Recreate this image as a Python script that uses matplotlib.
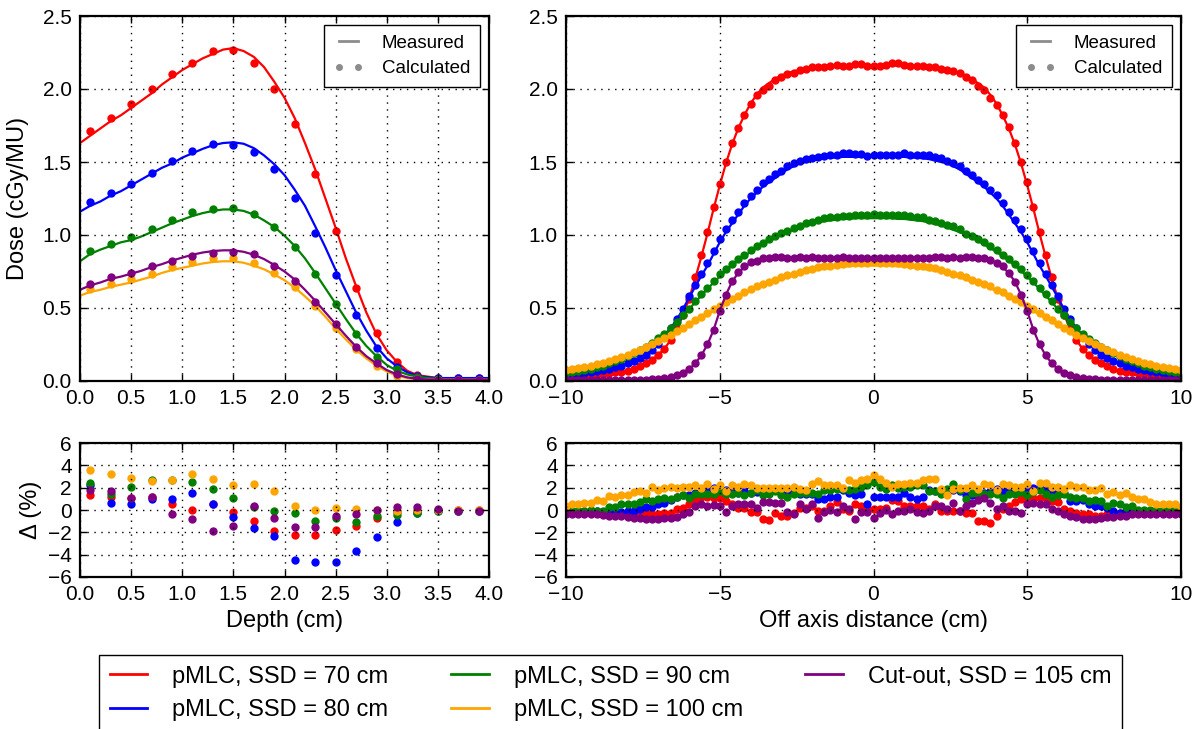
import numpy as np
import matplotlib
matplotlib.use('Agg')
import matplotlib.pyplot as plt
from matplotlib.lines import Line2D
from matplotlib.ticker import FormatStrFormatter

plt.rcParams['font.family'] = ['Liberation Sans', 'DejaVu Sans']
plt.rcParams['axes.linewidth'] = 1.6
plt.rcParams['xtick.direction'] = 'in'
plt.rcParams['ytick.direction'] = 'in'
plt.rcParams['xtick.top'] = True
plt.rcParams['ytick.right'] = True

# ---------------- depth dose (left) ----------------
depth_meas = np.round(np.arange(0.0, 4.01, 0.1), 1)
depth_calc = np.round(np.arange(0.1, 4.0, 0.2), 1)

pdd_red_meas = [1.63, 1.68, 1.73, 1.78, 1.82, 1.87, 1.92, 1.97, 2.03, 2.08,
                2.13, 2.17, 2.21, 2.24, 2.27, 2.28, 2.26, 2.22, 2.15, 2.05,
                1.94, 1.80, 1.63, 1.45, 1.25, 1.05, 0.84, 0.65, 0.47, 0.32,
                0.21, 0.13, 0.07, 0.04, 0.03, 0.02, 0.02, 0.02, 0.02, 0.02, 0.02]
pdd_blue_meas = [1.16, 1.20, 1.23, 1.27, 1.30, 1.34, 1.38, 1.42, 1.46, 1.49,
                 1.53, 1.56, 1.59, 1.615, 1.63, 1.635, 1.625, 1.595, 1.545, 1.485,
                 1.41, 1.31, 1.20, 1.06, 0.915, 0.76, 0.615, 0.47, 0.345, 0.235,
                 0.155, 0.10, 0.06, 0.035, 0.025, 0.02, 0.02, 0.02, 0.02, 0.02, 0.02]
pdd_green_meas = [0.82, 0.87, 0.90, 0.925, 0.95, 0.965, 0.99, 1.02, 1.05, 1.08,
                  1.105, 1.13, 1.15, 1.165, 1.175, 1.175, 1.165, 1.14, 1.10, 1.055,
                  0.995, 0.925, 0.84, 0.74, 0.635, 0.53, 0.425, 0.325, 0.24, 0.17,
                  0.11, 0.07, 0.045, 0.03, 0.02, 0.015, 0.012, 0.01, 0.01, 0.01, 0.01]
pdd_orange_meas = [0.585, 0.61, 0.625, 0.645, 0.66, 0.675, 0.695, 0.715, 0.74, 0.76,
                   0.775, 0.79, 0.805, 0.815, 0.82, 0.82, 0.81, 0.79, 0.765, 0.73,
                   0.69, 0.64, 0.58, 0.515, 0.44, 0.36, 0.285, 0.215, 0.155, 0.105,
                   0.065, 0.035, 0.02, 0.012, 0.01, 0.01, 0.01, 0.01, 0.01, 0.01, 0.01]
pdd_purple_meas = [0.625, 0.655, 0.675, 0.70, 0.715, 0.735, 0.755, 0.78, 0.80, 0.825,
                   0.845, 0.865, 0.88, 0.89, 0.895, 0.895, 0.885, 0.865, 0.835, 0.795,
                   0.75, 0.695, 0.625, 0.55, 0.47, 0.39, 0.31, 0.235, 0.17, 0.12,
                   0.075, 0.045, 0.025, 0.015, 0.01, 0.01, 0.01, 0.01, 0.01, 0.01, 0.01]

pdd_red_calc = [1.71, 1.80, 1.90, 2.00, 2.10, 2.18, 2.26, 2.27, 2.18, 2.00,
                1.76, 1.42, 1.03, 0.64, 0.33, 0.13, 0.04, 0.02, 0.02, 0.02]
pdd_blue_calc = [1.226, 1.285, 1.347, 1.427, 1.507, 1.578, 1.623, 1.619, 1.566, 1.452,
                 1.253, 1.011, 0.726, 0.452, 0.228, 0.098, 0.034, 0.02, 0.02, 0.02]
pdd_green_calc = [0.893, 0.936, 0.986, 1.043, 1.103, 1.155, 1.180, 1.185, 1.144, 1.053,
                  0.920, 0.733, 0.527, 0.320, 0.162, 0.080, 0.03, 0.015, 0.01, 0.01]
pdd_orange_calc = [0.632, 0.664, 0.696, 0.735, 0.781, 0.815, 0.840, 0.840, 0.808, 0.742,
                   0.646, 0.514, 0.361, 0.217, 0.105, 0.034, 0.012, 0.01, 0.01, 0.01]
pdd_purple_calc = [0.664, 0.710, 0.742, 0.790, 0.824, 0.858, 0.874, 0.881, 0.868, 0.790,
                   0.685, 0.541, 0.390, 0.235, 0.121, 0.046, 0.015, 0.01, 0.01, 0.01]

pdd_red_diff = [1.35, 1.15, 1.05, 1.15, 0.5, 0.0, 0.5, -0.2, -0.95, -1.85,
                -2.25, -2.2, -1.8, -1.4, -0.75, -0.2, -0.05, 0.0, 0.0, 0.0]
pdd_blue_diff = [2.2, 0.65, 0.5, 1.0, 1.0, 1.5, 0.55, -0.65, -1.6, -2.3,
                 -4.5, -4.65, -4.7, -3.7, -2.45, -1.1, -0.3, -0.1, -0.05, -0.05]
pdd_green_diff = [2.4, 1.4, 2.1, 2.65, 2.7, 2.5, 1.9, 1.1, 0.3, -0.1,
                  -0.3, -1.0, -0.7, -1.1, -0.5, -0.45, -0.25, -0.1, -0.05, -0.05]
pdd_orange_diff = [3.6, 3.2, 2.9, 2.6, 2.7, 3.2, 2.8, 2.2, 2.3, 1.7,
                   0.4, 0.0, 0.2, 0.05, 0.0, -0.1, 0.0, 0.0, 0.0, 0.0]
pdd_purple_diff = [1.75, 1.7, 1.05, 1.15, -0.35, -0.8, -1.85, -1.45, 0.4, -0.7,
                   -1.55, -1.5, -0.55, -0.4, 0.0, 0.25, 0.25, 0.05, -0.1, -0.1]

# ---------------- profiles (right) ----------------
off_axis = np.round(np.arange(-10.0, 10.01, 0.2), 1)

prof_red_meas = [0.03, 0.035, 0.035, 0.04, 0.04, 0.045, 0.05, 0.055, 0.06, 0.065,
                 0.07, 0.08, 0.10, 0.12, 0.145, 0.18, 0.22, 0.28, 0.36, 0.45,
                 0.56, 0.70, 0.85, 1.01, 1.18, 1.34, 1.49, 1.62, 1.73, 1.82,
                 1.90, 1.96, 2.01, 2.04, 2.07, 2.09, 2.11, 2.12, 2.13, 2.14,
                 2.14, 2.15, 2.15, 2.15, 2.15, 2.155, 2.16, 2.16, 2.16, 2.16,
                 2.16, 2.16, 2.16, 2.16, 2.16, 2.155, 2.15, 2.15, 2.15, 2.15,
                 2.14, 2.14, 2.13, 2.12, 2.11, 2.09, 2.07, 2.04, 2.01, 1.96,
                 1.90, 1.82, 1.73, 1.62, 1.49, 1.34, 1.18, 1.01, 0.85, 0.70,
                 0.56, 0.45, 0.36, 0.28, 0.22, 0.18, 0.145, 0.12, 0.10, 0.08,
                 0.07, 0.065, 0.06, 0.055, 0.05, 0.045, 0.04, 0.04, 0.035, 0.035,
                 0.03]
prof_red_calc = [0.03, 0.035, 0.035, 0.04, 0.04, 0.045, 0.05, 0.055, 0.06, 0.065,
                 0.07, 0.08, 0.10, 0.12, 0.145, 0.18, 0.22, 0.28, 0.36, 0.45,
                 0.56, 0.71, 0.86, 1.02, 1.19, 1.35, 1.50, 1.63, 1.73, 1.82,
                 1.90, 1.96, 1.99, 2.02, 2.06, 2.08, 2.10, 2.11, 2.13, 2.14,
                 2.15, 2.15, 2.15, 2.16, 2.165, 2.155, 2.16, 2.17, 2.17, 2.16,
                 2.16, 2.16, 2.165, 2.18, 2.18, 2.165, 2.16, 2.16, 2.16, 2.15,
                 2.15, 2.14, 2.13, 2.12, 2.11, 2.085, 2.065, 2.02, 1.99, 1.94,
                 1.89, 1.82, 1.74, 1.63, 1.50, 1.36, 1.19, 1.02, 0.86, 0.71,
                 0.56, 0.45, 0.36, 0.28, 0.22, 0.18, 0.145, 0.12, 0.10, 0.08,
                 0.07, 0.065, 0.06, 0.055, 0.05, 0.045, 0.04, 0.04, 0.035, 0.035,
                 0.03]
prof_blue_meas = [0.04, 0.045, 0.05, 0.055, 0.06, 0.07, 0.075, 0.085, 0.095, 0.105,
                  0.12, 0.135, 0.155, 0.18, 0.215, 0.255, 0.305, 0.36, 0.42, 0.49,
                  0.57, 0.645, 0.72, 0.79, 0.87, 0.95, 1.02, 1.08, 1.14, 1.20,
                  1.25, 1.29, 1.33, 1.36, 1.39, 1.42, 1.45, 1.47, 1.49, 1.50,
                  1.51, 1.52, 1.525, 1.53, 1.53, 1.535, 1.535, 1.535, 1.535, 1.535,
                  1.535, 1.535, 1.535, 1.535, 1.535, 1.535, 1.53, 1.53, 1.525, 1.52,
                  1.51, 1.50, 1.49, 1.47, 1.45, 1.42, 1.39, 1.36, 1.33, 1.29,
                  1.25, 1.20, 1.14, 1.08, 1.02, 0.95, 0.87, 0.79, 0.72, 0.645,
                  0.57, 0.49, 0.42, 0.36, 0.305, 0.255, 0.215, 0.18, 0.155, 0.135,
                  0.12, 0.105, 0.095, 0.085, 0.075, 0.07, 0.06, 0.055, 0.05, 0.045,
                  0.04]
prof_blue_calc = [0.04, 0.045, 0.05, 0.055, 0.06, 0.07, 0.075, 0.085, 0.095, 0.105,
                  0.12, 0.135, 0.155, 0.18, 0.215, 0.255, 0.305, 0.365, 0.425, 0.495,
                  0.58, 0.655, 0.73, 0.805, 0.89, 0.97, 1.04, 1.10, 1.16, 1.22,
                  1.27, 1.31, 1.355, 1.385, 1.415, 1.44, 1.47, 1.495, 1.51, 1.52,
                  1.53, 1.535, 1.54, 1.545, 1.55, 1.56, 1.56, 1.555, 1.555, 1.54,
                  1.55, 1.55, 1.55, 1.55, 1.55, 1.56, 1.55, 1.545, 1.545, 1.545,
                  1.535, 1.525, 1.51, 1.495, 1.47, 1.44, 1.41, 1.38, 1.35, 1.31,
                  1.275, 1.22, 1.16, 1.10, 1.04, 0.97, 0.89, 0.805, 0.735, 0.655,
                  0.58, 0.495, 0.425, 0.365, 0.305, 0.255, 0.215, 0.18, 0.155, 0.135,
                  0.12, 0.105, 0.095, 0.085, 0.075, 0.07, 0.06, 0.055, 0.05, 0.045,
                  0.04]
prof_green_meas = [0.055, 0.06, 0.07, 0.075, 0.085, 0.095, 0.105, 0.12, 0.135, 0.15,
                   0.17, 0.19, 0.21, 0.235, 0.26, 0.29, 0.32, 0.36, 0.40, 0.445,
                   0.49, 0.54, 0.585, 0.63, 0.675, 0.715, 0.755, 0.79, 0.825, 0.855,
                   0.885, 0.91, 0.935, 0.96, 0.98, 1.00, 1.02, 1.035, 1.05, 1.065,
                   1.075, 1.085, 1.095, 1.10, 1.105, 1.11, 1.11, 1.115, 1.115, 1.115,
                   1.115, 1.115, 1.115, 1.115, 1.11, 1.11, 1.105, 1.10, 1.095, 1.085,
                   1.075, 1.065, 1.05, 1.035, 1.02, 1.00, 0.98, 0.96, 0.935, 0.91,
                   0.885, 0.855, 0.825, 0.79, 0.755, 0.715, 0.675, 0.63, 0.585, 0.54,
                   0.49, 0.445, 0.40, 0.36, 0.32, 0.29, 0.26, 0.235, 0.21, 0.19,
                   0.17, 0.15, 0.135, 0.12, 0.105, 0.095, 0.085, 0.075, 0.07, 0.06,
                   0.055]
prof_green_calc = [0.055, 0.06, 0.07, 0.075, 0.085, 0.095, 0.105, 0.12, 0.135, 0.15,
                   0.17, 0.19, 0.21, 0.235, 0.26, 0.295, 0.325, 0.365, 0.405, 0.45,
                   0.495, 0.55, 0.595, 0.64, 0.685, 0.73, 0.765, 0.80, 0.835, 0.865,
                   0.90, 0.925, 0.945, 0.975, 0.995, 1.015, 1.03, 1.05, 1.065, 1.08,
                   1.09, 1.10, 1.115, 1.12, 1.125, 1.13, 1.13, 1.135, 1.14, 1.14,
                   1.145, 1.14, 1.135, 1.14, 1.135, 1.135, 1.13, 1.125, 1.12, 1.105,
                   1.095, 1.08, 1.07, 1.06, 1.04, 1.01, 0.995, 0.975, 0.95, 0.925,
                   0.90, 0.865, 0.835, 0.80, 0.765, 0.725, 0.685, 0.64, 0.595, 0.545,
                   0.495, 0.45, 0.405, 0.365, 0.325, 0.29, 0.26, 0.235, 0.21, 0.19,
                   0.17, 0.15, 0.135, 0.12, 0.105, 0.095, 0.085, 0.075, 0.07, 0.06,
                   0.055]
prof_orange_meas = [0.075, 0.08, 0.09, 0.095, 0.105, 0.115, 0.125, 0.135, 0.15, 0.165,
                    0.18, 0.195, 0.21, 0.23, 0.25, 0.27, 0.29, 0.31, 0.335, 0.36,
                    0.38, 0.405, 0.43, 0.455, 0.48, 0.505, 0.53, 0.55, 0.575, 0.595,
                    0.615, 0.635, 0.65, 0.665, 0.68, 0.695, 0.71, 0.72, 0.735, 0.745,
                    0.755, 0.76, 0.77, 0.775, 0.78, 0.785, 0.785, 0.79, 0.79, 0.79,
                    0.79, 0.79, 0.79, 0.79, 0.785, 0.785, 0.78, 0.775, 0.77, 0.76,
                    0.755, 0.745, 0.735, 0.72, 0.71, 0.695, 0.68, 0.665, 0.65, 0.635,
                    0.615, 0.595, 0.575, 0.55, 0.53, 0.505, 0.48, 0.455, 0.43, 0.405,
                    0.38, 0.36, 0.335, 0.31, 0.29, 0.27, 0.25, 0.23, 0.21, 0.195,
                    0.18, 0.165, 0.15, 0.135, 0.125, 0.115, 0.105, 0.095, 0.09, 0.08,
                    0.075]
prof_orange_calc = [0.075, 0.08, 0.09, 0.095, 0.105, 0.115, 0.125, 0.135, 0.15, 0.165,
                    0.18, 0.20, 0.215, 0.235, 0.255, 0.275, 0.295, 0.315, 0.34, 0.365,
                    0.39, 0.415, 0.44, 0.465, 0.49, 0.515, 0.54, 0.56, 0.585, 0.61,
                    0.63, 0.65, 0.665, 0.68, 0.695, 0.71, 0.725, 0.735, 0.75, 0.76,
                    0.77, 0.78, 0.785, 0.79, 0.795, 0.80, 0.805, 0.81, 0.81, 0.81,
                    0.815, 0.81, 0.81, 0.805, 0.805, 0.80, 0.795, 0.79, 0.79, 0.78,
                    0.775, 0.76, 0.745, 0.735, 0.725, 0.71, 0.695, 0.68, 0.665, 0.65,
                    0.625, 0.61, 0.585, 0.56, 0.54, 0.515, 0.49, 0.465, 0.44, 0.415,
                    0.39, 0.365, 0.34, 0.315, 0.295, 0.275, 0.255, 0.235, 0.215, 0.20,
                    0.18, 0.165, 0.15, 0.135, 0.125, 0.115, 0.105, 0.095, 0.09, 0.08,
                    0.075]
prof_purple_meas = [0.005, 0.005, 0.005, 0.005, 0.005, 0.005, 0.005, 0.006, 0.006, 0.007,
                    0.007, 0.008, 0.009, 0.01, 0.012, 0.014, 0.018, 0.025, 0.04, 0.055,
                    0.08, 0.12, 0.175, 0.25, 0.35, 0.48, 0.59, 0.68, 0.74, 0.78,
                    0.81, 0.825, 0.835, 0.84, 0.845, 0.845, 0.845, 0.845, 0.845, 0.845,
                    0.845, 0.845, 0.845, 0.845, 0.845, 0.845, 0.845, 0.845, 0.845, 0.845,
                    0.845, 0.845, 0.845, 0.845, 0.845, 0.845, 0.845, 0.845, 0.845, 0.845,
                    0.845, 0.845, 0.845, 0.845, 0.845, 0.845, 0.845, 0.84, 0.835, 0.825,
                    0.81, 0.78, 0.74, 0.68, 0.59, 0.48, 0.35, 0.25, 0.175, 0.12,
                    0.08, 0.055, 0.04, 0.025, 0.018, 0.014, 0.012, 0.01, 0.009, 0.008,
                    0.007, 0.007, 0.006, 0.006, 0.005, 0.005, 0.005, 0.005, 0.005, 0.005,
                    0.005]
prof_purple_calc = [0.005, 0.005, 0.005, 0.005, 0.005, 0.005, 0.005, 0.006, 0.006, 0.007,
                    0.007, 0.008, 0.009, 0.01, 0.012, 0.014, 0.018, 0.025, 0.04, 0.055,
                    0.08, 0.12, 0.175, 0.25, 0.35, 0.48, 0.59, 0.685, 0.745, 0.785,
                    0.815, 0.825, 0.84, 0.845, 0.85, 0.85, 0.845, 0.845, 0.85, 0.845,
                    0.85, 0.84, 0.845, 0.845, 0.845, 0.85, 0.845, 0.84, 0.845, 0.845,
                    0.84, 0.845, 0.845, 0.845, 0.845, 0.845, 0.845, 0.845, 0.845, 0.845,
                    0.85, 0.85, 0.845, 0.85, 0.845, 0.85, 0.85, 0.845, 0.845, 0.83,
                    0.81, 0.785, 0.74, 0.68, 0.59, 0.48, 0.35, 0.25, 0.175, 0.12,
                    0.08, 0.055, 0.04, 0.025, 0.018, 0.014, 0.012, 0.01, 0.009, 0.008,
                    0.007, 0.007, 0.006, 0.006, 0.005, 0.005, 0.005, 0.005, 0.005, 0.005,
                    0.005]

prof_red_diff = [-0.2, -0.2, -0.2, -0.2, -0.25, -0.25, -0.3, -0.3, -0.3, -0.3,
                 -0.3, -0.35, -0.35, -0.25, -0.4, -0.4, -0.25, -0.25, 0.05, 0.2,
                 0.5, 0.8, 1.15, 1.15, 1.1, 1.1, 0.85, 0.5, 0.2, 0.2,
                 -0.2, -0.2, -0.85, -0.9, -0.25, -0.5, -0.5, -0.25, 0.2, 0.2,
                 0.4, -0.1, -0.1, 0.35, 0.7, 0.05, -0.05, 0.5, 0.4, 0.05,
                 0.05, 0.05, 0.2, 0.9, 0.8, 0.4, 0.4, 0.35, 0.35, 0.05,
                 0.5, -0.05, -0.1, -0.1, -0.05, -0.25, -0.25, -1.0, -1.0, -1.2,
                 -0.5, 0.05, 0.35, 0.7, 1.0, 1.15, 1.1, 1.1, 1.15, 0.8,
                 0.7, 0.05, -0.05, -0.25, -0.35, -0.4, -0.5, -0.5, -0.4, -0.35,
                 -0.3, -0.3, -0.3, -0.2, -0.2, -0.2, -0.2, -0.2, -0.1, -0.1,
                 -0.1]
prof_blue_diff = [-0.05, -0.05, -0.05, -0.05, -0.1, -0.1, -0.15, -0.2, -0.2, -0.2,
                  -0.1, -0.1, 0.05, 0.25, 0.25, 0.55, 0.65, 0.9, 1.2, 1.3,
                  1.3, 1.5, 1.6, 1.9, 2.0, 1.9, 1.8, 1.6, 1.5, 1.7,
                  1.5, 1.65, 1.75, 1.7, 1.75, 1.5, 1.6, 1.7, 1.4, 1.4,
                  1.45, 1.0, 1.0, 1.15, 1.2, 1.75, 1.5, 1.3, 1.4, 0.5,
                  1.15, 1.2, 1.2, 1.15, 1.2, 1.5, 1.15, 1.0, 1.2, 1.75,
                  1.7, 1.7, 1.6, 1.75, 1.7, 1.3, 1.3, 1.3, 1.5, 1.7,
                  1.9, 1.7, 1.9, 1.75, 1.7, 2.0, 2.0, 2.1, 1.9, 1.75,
                  1.6, 1.5, 0.85, 0.8, 0.9, 0.5, 0.35, 0.35, 0.2, -0.1,
                  -0.25, -0.2, -0.2, -0.1, -0.1, -0.05, -0.05, -0.05, 0.0, -0.05,
                  -0.05]
prof_green_diff = [-0.1, -0.1, -0.1, -0.1, 0.0, -0.05, -0.05, 0.27, 0.27, 0.5,
                   0.5, 0.5, 0.7, 1.0, 0.85, 1.0, 1.05, 1.0, 1.15, 1.3,
                   1.1, 1.4, 1.45, 1.45, 1.45, 1.7, 1.45, 1.45, 1.5, 1.3,
                   1.5, 1.75, 1.3, 1.4, 1.7, 1.3, 1.15, 1.4, 1.5, 1.5,
                   1.5, 1.4, 1.75, 1.8, 1.9, 1.9, 1.8, 1.9, 2.1, 2.2,
                   2.5, 2.1, 1.9, 2.2, 2.0, 2.1, 2.1, 2.2, 2.2, 1.7,
                   1.7, 1.4, 1.9, 2.35, 1.75, 1.0, 1.5, 1.4, 1.45, 1.4,
                   1.45, 1.1, 1.45, 1.45, 1.6, 1.3, 1.6, 1.8, 1.45, 1.15,
                   1.3, 1.4, 1.15, 1.1, 1.1, 0.85, 0.9, 0.8, 0.35, 0.6,
                   0.5, 0.27, 0.33, 0.0, 0.0, 0.0, 0.0, 0.0, 0.0, -0.05,
                   -0.05]
prof_orange_diff = [0.35, 0.5, 0.5, 0.6, 0.6, 0.9, 0.85, 1.25, 1.15, 1.3,
                    1.3, 1.6, 1.7, 1.5, 2.05, 1.75, 2.0, 2.05, 2.0, 2.05,
                    2.05, 2.2, 1.95, 2.3, 1.9, 2.2, 1.7, 2.2, 2.1, 2.3,
                    2.2, 2.0, 2.0, 2.0, 2.0, 2.0, 2.0, 2.05, 1.9, 1.8,
                    2.3, 2.6, 2.2, 2.2, 2.2, 2.0, 2.7, 2.4, 2.7, 2.8,
                    3.1, 2.8, 2.4, 2.1, 2.35, 2.35, 2.4, 2.4, 2.65, 2.8,
                    2.8, 1.9, 1.3, 1.9, 2.0, 2.0, 2.2, 1.9, 2.3, 2.2,
                    1.75, 2.3, 2.2, 2.05, 2.1, 2.3, 1.7, 2.4, 2.4, 2.05,
                    2.1, 1.9, 2.2, 2.1, 2.05, 1.8, 1.75, 2.0, 1.45, 1.6,
                    1.3, 1.5, 1.2, 1.0, 1.0, 0.7, 0.5, 0.5, 0.55, 0.5,
                    0.3]
prof_purple_diff = [-0.35, -0.35, -0.35, -0.35, -0.4, -0.4, -0.45, -0.5, -0.5, -0.55,
                    -0.6, -0.7, -0.75, -0.8, -0.8, -0.8, -0.7, -0.75, -0.6, -0.4,
                    -0.2, 0.35, 0.55, 0.4, 0.45, 0.35, -0.2, 0.35, 0.5, 0.5,
                    0.5, 0.2, 0.7, 0.7, 0.65, 0.6, -0.2, -0.35, 0.55, 0.05,
                    0.5, -0.7, -0.2, 0.0, -0.2, 0.35, 0.1, -0.8, -0.2, -0.2,
                    -0.7, -0.25, 0.0, -0.35, -0.1, -0.1, 0.05, -0.2, -0.25, -0.1,
                    0.35, 0.35, 0.1, 0.6, -0.1, 0.35, 0.6, 0.9, 1.1, 0.6,
                    0.1, 0.35, -0.1, -0.05, -0.25, 0.5, 0.6, 0.55, 0.5, 0.1,
                    -0.1, -0.35, -0.5, -0.6, -0.8, -0.8, -0.8, -0.7, -0.6, -0.6,
                    -0.55, -0.5, -0.4, -0.4, -0.4, -0.35, -0.35, -0.35, -0.35, -0.35,
                    -0.35]

series_colors = ['red', 'blue', 'green', 'orange', 'purple']
series_labels = ['pMLC, SSD = 70 cm', 'pMLC, SSD = 80 cm', 'pMLC, SSD = 90 cm',
                 'pMLC, SSD = 100 cm', 'Cut-out, SSD = 105 cm']

pdd_meas = [pdd_red_meas, pdd_blue_meas, pdd_green_meas, pdd_orange_meas, pdd_purple_meas]
pdd_calc = [pdd_red_calc, pdd_blue_calc, pdd_green_calc, pdd_orange_calc, pdd_purple_calc]
pdd_diff = [pdd_red_diff, pdd_blue_diff, pdd_green_diff, pdd_orange_diff, pdd_purple_diff]
prof_meas = [prof_red_meas, prof_blue_meas, prof_green_meas, prof_orange_meas, prof_purple_meas]
prof_calc = [prof_red_calc, prof_blue_calc, prof_green_calc, prof_orange_calc, prof_purple_calc]
prof_diff = [prof_red_diff, prof_blue_diff, prof_green_diff, prof_orange_diff, prof_purple_diff]

W, H = 1201, 729
fig = plt.figure(figsize=(W / 100, H / 100), dpi=100)
fig.patch.set_facecolor('white')


def box(x0, y0, x1, y1):
    return [x0 / W, 1 - y1 / H, (x1 - x0) / W, (y1 - y0) / H]


ax1 = fig.add_axes(box(80, 16, 489, 381))
ax2 = fig.add_axes(box(566, 16, 1181, 381))
ax3 = fig.add_axes(box(80, 443, 489, 577))
ax4 = fig.add_axes(box(566, 443, 1181, 577))

ms = 5
for c, m, k in zip(series_colors, pdd_meas, pdd_calc):
    ax1.plot(depth_meas, m, '-', color=c, lw=1.6)
    ax1.plot(depth_calc, k, 'o', color=c, ms=ms, mec=c)
for c, m, k in zip(series_colors, prof_meas, prof_calc):
    ax2.plot(off_axis, m, '-', color=c, lw=1.6)
    ax2.plot(off_axis, k, 'o', color=c, ms=ms, mec=c)
for c, d in zip(series_colors, pdd_diff):
    ax3.plot(depth_calc, d, 'o', color=c, ms=ms, mec=c)
for c, d in zip(series_colors, prof_diff):
    ax4.plot(off_axis, d, 'o', color=c, ms=ms, mec=c)

for ax in (ax1, ax3):
    ax.set_xlim(0, 4)
    ax.set_xticks(np.arange(0, 4.01, 0.5))
    ax.xaxis.set_major_formatter(FormatStrFormatter('%.1f'))
for ax in (ax2, ax4):
    ax.set_xlim(-10, 10)
    ax.set_xticks([-10, -5, 0, 5, 10])
for ax in (ax1, ax2):
    ax.set_ylim(0, 2.5)
    ax.set_yticks(np.arange(0, 2.51, 0.5))
    ax.yaxis.set_major_formatter(FormatStrFormatter('%.1f'))
for ax in (ax3, ax4):
    ax.set_ylim(-6, 6)
    ax.set_yticks([-6, -4, -2, 0, 2, 4, 6])

for ax in (ax1, ax2, ax3, ax4):
    ax.grid(True, color='k', linestyle=(0, (1, 4)), linewidth=1.0)
    ax.tick_params(labelsize=15, length=5, width=1, pad=6)
    ax.set_axisbelow(False)

ax1.set_ylabel('Dose (cGy/MU)', fontsize=17, labelpad=10)
ax3.set_ylabel('Δ (%)', fontsize=17, labelpad=4)
ax3.set_xlabel('Depth (cm)', fontsize=17, labelpad=4)
ax4.set_xlabel('Off axis distance (cm)', fontsize=17, labelpad=4)

gray = '0.55'
key_handles = [Line2D([], [], color=gray, lw=2),
               Line2D([], [], color=gray, ls='none', marker='o', ms=4, mec=gray)]
for ax in (ax1, ax2):
    ax.legend(key_handles, ['Measured', 'Calculated'], loc='upper right',
              fontsize=13.5, numpoints=2, fancybox=False, framealpha=1,
              edgecolor='k', handlelength=1.6, handletextpad=1.0,
              borderpad=0.5, labelspacing=0.45, borderaxespad=0.5)

series_handles = [Line2D([], [], color=c, lw=2) for c in series_colors]
leg = fig.legend(series_handles, series_labels, loc='upper center',
                 bbox_to_anchor=(610.5 / W, 1 - 655 / H), ncol=3, fontsize=17,
                 fancybox=False, framealpha=1, edgecolor='k', handlelength=1.6,
                 handletextpad=1.05, columnspacing=2.65, borderpad=0.45,
                 labelspacing=0.5, borderaxespad=0)

fig.savefig('out.png', dpi=100)
